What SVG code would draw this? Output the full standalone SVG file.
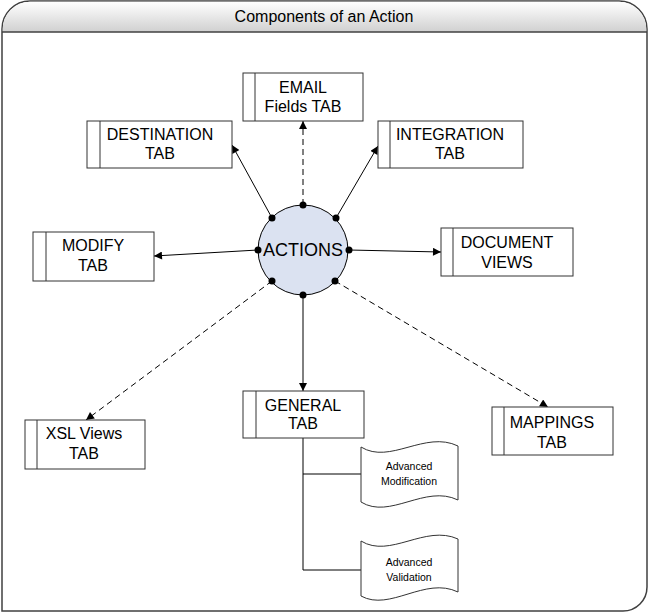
<svg xmlns="http://www.w3.org/2000/svg" width="649" height="613" viewBox="0 0 649 613">
<defs>
<linearGradient id="band" x1="0" y1="0" x2="0" y2="1">
<stop offset="0" stop-color="#ffffff"/>
<stop offset="1" stop-color="#d0d0d0"/>
</linearGradient>
<marker id="arr" viewBox="0 0 10 10" refX="10" refY="5" markerWidth="9" markerHeight="8" markerUnits="userSpaceOnUse" orient="auto">
<path d="M0,0 L10,5 L0,10 Z" fill="#000"/>
</marker>
</defs>
<style>
.frame{fill:#fff;stroke:#404040;stroke-width:1.5}
.box{fill:#fff;stroke:#333;stroke-width:1}
.bar{stroke:#333;stroke-width:1}
.t{font-family:"Liberation Sans",Arial,sans-serif;font-size:16px;fill:#000;text-anchor:middle}
.s{font-family:"Liberation Sans",Arial,sans-serif;font-size:10.5px;fill:#000;text-anchor:middle}
.c{fill:none;stroke:#000;stroke-width:1}
.d{stroke-dasharray:6,4}
.a{marker-end:url(#arr)}
</style>
<g id="frame">
<path class="frame" d="M2,611 L2,29 A28,28 0 0 1 30,1 L619,1 A28,28 0 0 1 647,29 L647,587 A24,24 0 0 1 623,611 Z"/>
<path d="M2.75,32 L2.75,29 A27.25,27.25 0 0 1 30,1.75 L619,1.75 A27.25,27.25 0 0 1 646.25,29 L646.25,32 Z" fill="url(#band)"/>
<line x1="2" y1="32" x2="647" y2="32" stroke="#404040" stroke-width="1.5"/>
<text class="t" x="324" y="22">Components of an Action</text>
</g>
<g id="connectors">
<path class="c d a" d="M303,205 L303,121"/>
<path class="c a" d="M272,218 L232,145"/>
<path class="c a" d="M336,218 L378,146"/>
<path class="c a" d="M258,250 L154,256"/>
<path class="c a" d="M349,250 L441,252"/>
<path class="c d a" d="M272,281 L86,420"/>
<path class="c d a" d="M335,281 L548,407"/>
<path class="c a" d="M303,295 L303,391"/>
<path class="c" d="M303,438 L303,570 L361,570"/>
<path class="c" d="M303,474 L361,474"/>
</g>
<g id="actions">
<circle cx="303" cy="250" r="45" fill="#dbe2f1" stroke="#000" stroke-width="1"/>
<text class="t" x="303" y="256" style="font-size:18px">ACTIONS</text>
</g>
<g id="dots">
<circle cx="303" cy="205" r="3.5"/>
<circle cx="272" cy="218" r="3.5"/>
<circle cx="336" cy="218" r="3.5"/>
<circle cx="258" cy="250" r="3.5"/>
<circle cx="349" cy="250" r="3.5"/>
<circle cx="272" cy="281" r="3.5"/>
<circle cx="335" cy="281" r="3.5"/>
<circle cx="303" cy="295" r="3.5"/>
</g>
<g id="email">
<rect class="box" x="243" y="73" width="120" height="48"/>
<line class="bar" x1="255" y1="73" x2="255" y2="121"/>
<text class="t" x="303" y="93">EMAIL</text>
<text class="t" x="303" y="112">Fields TAB</text>
</g>
<g id="destination">
<rect class="box" x="87" y="121" width="145" height="47"/>
<line class="bar" x1="100" y1="121" x2="100" y2="168"/>
<text class="t" x="160" y="140">DESTINATION</text>
<text class="t" x="160" y="159">TAB</text>
</g>
<g id="integration">
<rect class="box" x="378" y="121" width="145" height="47"/>
<line class="bar" x1="390" y1="121" x2="390" y2="168"/>
<text class="t" x="450" y="140">INTEGRATION</text>
<text class="t" x="450" y="159">TAB</text>
</g>
<g id="modify">
<rect class="box" x="33" y="232" width="121" height="49"/>
<line class="bar" x1="46" y1="232" x2="46" y2="281"/>
<text class="t" x="93" y="251">MODIFY</text>
<text class="t" x="93" y="271">TAB</text>
</g>
<g id="document">
<rect class="box" x="441" y="228" width="132" height="48"/>
<line class="bar" x1="453" y1="228" x2="453" y2="276"/>
<text class="t" x="507" y="248">DOCUMENT</text>
<text class="t" x="507" y="268">VIEWS</text>
</g>
<g id="xsl">
<rect class="box" x="25" y="420" width="120" height="49"/>
<line class="bar" x1="37" y1="420" x2="37" y2="469"/>
<text class="t" x="84" y="439">XSL Views</text>
<text class="t" x="84" y="459">TAB</text>
</g>
<g id="general">
<rect class="box" x="243" y="391" width="121" height="47"/>
<line class="bar" x1="256" y1="391" x2="256" y2="438"/>
<text class="t" x="303" y="411">GENERAL</text>
<text class="t" x="303" y="429">TAB</text>
</g>
<g id="mappings">
<rect class="box" x="492" y="407" width="121" height="48"/>
<line class="bar" x1="504" y1="407" x2="504" y2="455"/>
<text class="t" x="552" y="428">MAPPINGS</text>
<text class="t" x="552" y="448">TAB</text>
</g>
<g id="adv-mod">
<path class="box" d="M361,447 C390,465 425,430 458,446 L458,500 C425,484 390,520 361,502 Z"/>
<text class="s" x="409" y="470">Advanced</text>
<text class="s" x="409" y="485">Modification</text>
</g>
<g id="adv-val">
<path class="box" d="M361,541 C390,559 425,524 458,539 L458,592 C425,576 390,612 361,596 Z"/>
<text class="s" x="409" y="566">Advanced</text>
<text class="s" x="409" y="581">Validation</text>
</g>
</svg>
